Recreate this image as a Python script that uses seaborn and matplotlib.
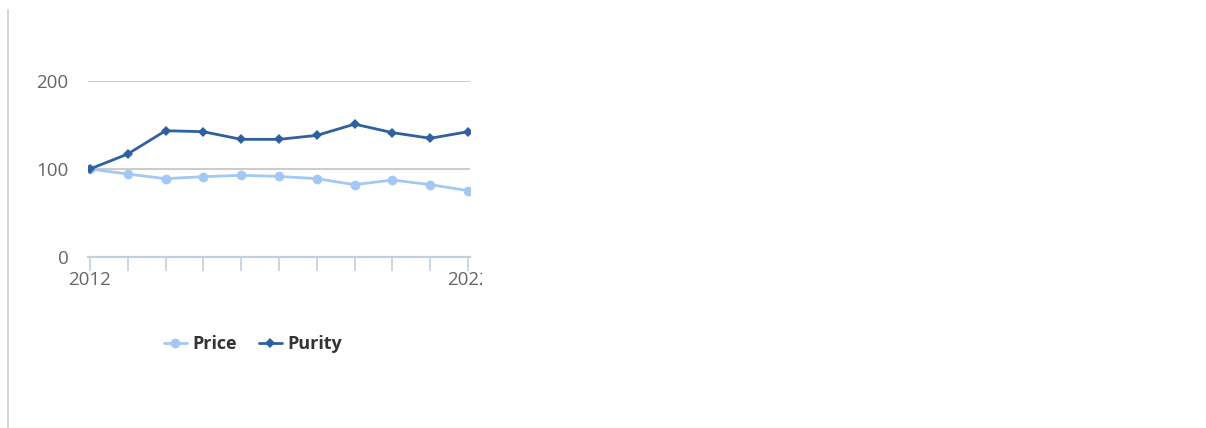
import matplotlib
matplotlib.use("Agg")
import matplotlib.pyplot as plt
import seaborn as sns
import pandas as pd
from matplotlib.lines import Line2D
from matplotlib.transforms import Bbox

years = list(range(2012, 2023))
price = [100, 94.3, 89, 91.3, 92.8, 91.6, 89, 82.2, 87.5, 82.2, 75.4]
purity = [100, 117, 143.5, 142.4, 133.7, 133.7, 138.2, 151, 141.3, 134.9, 142.4]
series_names = ["Price", "Purity"]

price_color = "#a4c8f6"
purity_color = "#2f619f"


def main():
    sns.set_style("white")
    plt.rcParams['font.family'] = ['Open Sans', 'DejaVu Sans']

    df = pd.DataFrame({"year": years * 2,
                       "value": price + purity,
                       "series": ["Price"] * len(years) + ["Purity"] * len(years)})

    fig = plt.figure(figsize=(12.06, 4.28), dpi=100)
    W, H = 1206, 428
    ax = fig.add_axes([88 / W, 1 - 257 / H, (470 - 88) / W, (257 - 81) / H])

    sns.lineplot(data=df[df.series == "Price"], x="year", y="value", ax=ax,
                 color=price_color, marker="o", markersize=7, markeredgewidth=0,
                 linewidth=2, zorder=3)
    sns.lineplot(data=df[df.series == "Purity"], x="year", y="value", ax=ax,
                 color=purity_color, marker="D", markersize=5, markeredgewidth=0,
                 linewidth=2, zorder=4)

    ax.set_xlim(2011.95, 2022.05)
    ax.set_ylim(0, 200)
    ax.set_xlabel("")
    ax.set_ylabel("")
    for s in ["top", "right", "left"]:
        ax.spines[s].set_visible(False)
    ax.spines["bottom"].set_color("#c4cfdd")
    ax.spines["bottom"].set_linewidth(1.5)
    ax.set_yticks([0, 100, 200])
    ax.yaxis.grid(True, color="#cccccc", linewidth=1.5)
    ax.set_axisbelow(True)
    ax.set_xticks(years)
    ax.set_xticklabels([str(years[0])] + [""] * (len(years) - 2) + [str(years[-1])])
    ax.tick_params(axis="x", length=10, width=1.2, color="#c4cfdd", pad=0,
                   labelsize=13.5, labelcolor="#666666", bottom=True)
    ax.tick_params(axis="y", length=0, pad=14, labelsize=13.5, labelcolor="#666666")

    # the last year label is cut off at the chart edge
    fig.canvas.draw()
    lbl = ax.get_xticklabels()[-1]
    lbl.set_clip_on(True)
    lbl.set_clip_box(Bbox.from_extents(0, 0, 482, H))

    handles = [Line2D([], [], color=price_color, marker="o", markersize=7, linewidth=2,
                      markeredgewidth=0),
               Line2D([], [], color=purity_color, marker="D", markersize=5, linewidth=2,
                      markeredgewidth=0)]
    leg = fig.legend(handles, series_names, loc="center", bbox_to_anchor=(253 / W, 1 - 344 / H),
                     ncol=2, frameon=False, handlelength=1.3, handletextpad=0.3,
                     columnspacing=1.2, prop={"size": 13, "weight": "bold"})
    for t in leg.get_texts():
        t.set_color("#333333")

    fig.add_artist(Line2D([8 / W, 8 / W], [0, 1 - 10 / H], transform=fig.transFigure,
                          color="#cccccc", linewidth=1.2))

    fig.savefig("out.png", dpi=100)


if __name__ == "__main__":
    main()
